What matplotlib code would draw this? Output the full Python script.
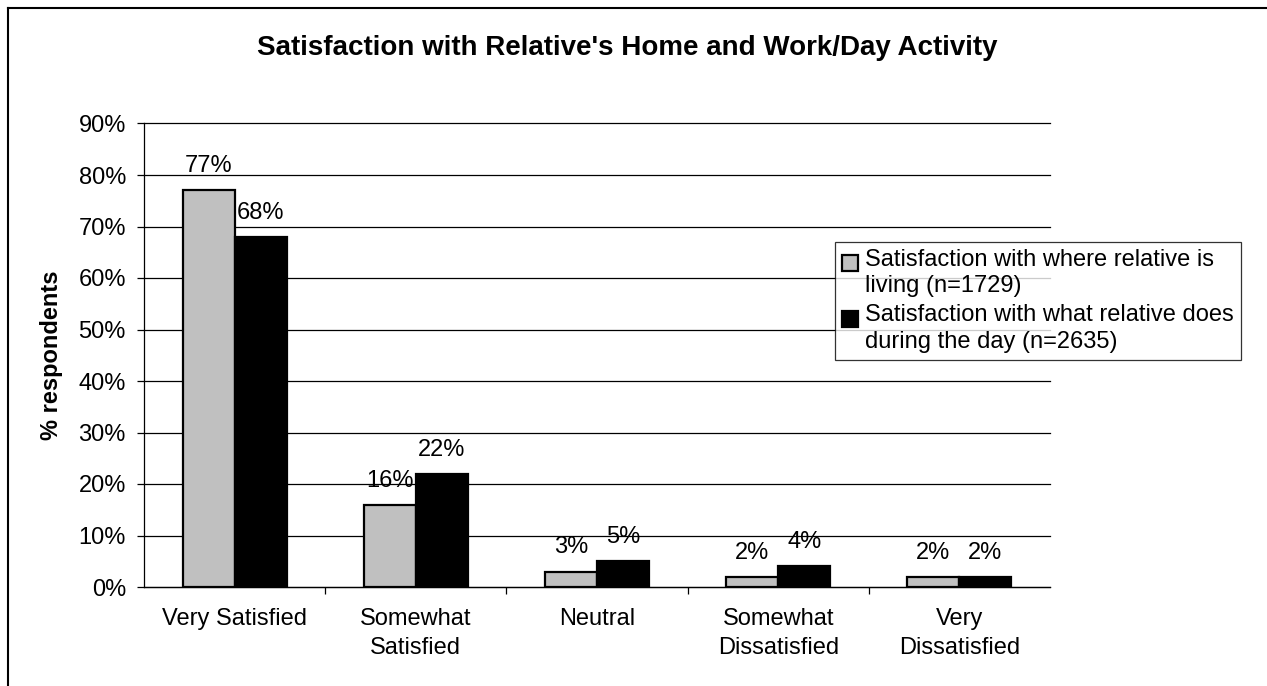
import matplotlib.pyplot as plt
import numpy as np
from matplotlib.patches import Rectangle
from matplotlib.lines import Line2D
from matplotlib.container import BarContainer
from matplotlib.legend_handler import HandlerPatch, update_from_first_child

plt.rcParams['font.family'] = ['Liberation Sans', 'DejaVu Sans']

# Datos
categories = ["Very Satisfied", "Somewhat\nSatisfied", "Neutral", "Somewhat\nDissatisfied", "Very\nDissatisfied"]
living = [77, 16, 3, 2, 2]
daytime = [68, 22, 5, 4, 2]
series_names = ["Satisfaction with where relative is\nliving (n=1729)",
                "Satisfaction with what relative does\nduring the day (n=2635)"]
yticks = list(range(0, 100, 10))

W, H = 1267, 686
fig = plt.figure(figsize=(W / 100, H / 100), dpi=100)
ax = fig.add_axes([144 / W, 1 - 587 / H, (1050 - 144) / W, (587 - 123.5) / H])

x = np.arange(len(categories))
w = 0.287
b1 = ax.bar(x - w / 2, living, w, color="#C0C0C0", edgecolor="black", linewidth=1.6,
            label=series_names[0], zorder=3)
b2 = ax.bar(x + w / 2, daytime, w, color="black", edgecolor="black", linewidth=1.6,
            label=series_names[1], zorder=3)

for bars, vals in [(b1, living), (b2, daytime)]:
    for r, v in zip(bars, vals):
        ax.annotate(f"{v}%", (r.get_x() + r.get_width() / 2, v), xytext=(0, 13),
                    textcoords="offset points", ha="center", va="baseline", fontsize=17)

ax.set_xlim(-0.5, len(categories) - 0.5)
ax.set_ylim(0, 90)
ax.set_yticks(yticks)
ax.set_yticklabels([f"{t}%" for t in yticks], fontsize=17)
ax.yaxis.grid(True, color="black", linewidth=0.9, zorder=0)
ax.set_axisbelow(True)
for gl in ax.get_ygridlines():
    gl.set_clip_on(False)

ax.set_xticks(x)
ax.set_xticklabels(categories, fontsize=17, linespacing=1.4)
ax.tick_params(axis="x", length=0, pad=15)
ax.set_xticks(np.arange(0.5, len(categories) - 0.5, 1), minor=True)
ax.tick_params(axis="x", which="minor", length=5, width=0.9, direction="out")
ax.tick_params(axis="y", length=5, width=0.9, direction="out", pad=8)

for s in ["top", "right"]:
    ax.spines[s].set_visible(False)
for s in ["left", "bottom"]:
    ax.spines[s].set_linewidth(0.9)

fig.text(52 / W, 1 - 355 / H, "% respondents", rotation=90, ha="center", va="center",
         fontsize=17, fontweight="bold")

fig.text(627 / W, 1 - 55 / H, "Satisfaction with Relative's Home and Work/Day Activity",
         ha="center", va="baseline", fontsize=20, fontweight="bold")


# cuadrado de leyenda alineado con la primera linea
def square_top(legend, orig_handle, xdescent, ydescent, width, height, fontsize):
    sq = width
    return Rectangle((-xdescent, -ydescent + height - sq), sq, sq)


leg = fig.legend(loc="upper left", bbox_to_anchor=(835 / W, 1 - 242 / H), fontsize=17,
                 frameon=True, fancybox=False, edgecolor="black", handlelength=0.68,
                 handleheight=2.1, handletextpad=0.3, borderpad=0.3, labelspacing=0.3,
                 borderaxespad=0,
                 handler_map={BarContainer: HandlerPatch(patch_func=square_top,
                                                         update_func=update_from_first_child)})
leg.get_frame().set_linewidth(0.9)
for t in leg.get_texts():
    t.set_linespacing(1.25)
for p in leg.get_patches():
    p.set_linewidth(1.6)

# borde de la figura (solo arriba e izquierda visibles)
fig.lines.append(Line2D([8 / W, 1], [1 - 8 / H, 1 - 8 / H], transform=fig.transFigure,
                        color="black", linewidth=1.5))
fig.lines.append(Line2D([8 / W, 8 / W], [0, 1 - 8 / H], transform=fig.transFigure,
                        color="black", linewidth=1.5))

plt.savefig("out.png", dpi=100)
plt.close()
